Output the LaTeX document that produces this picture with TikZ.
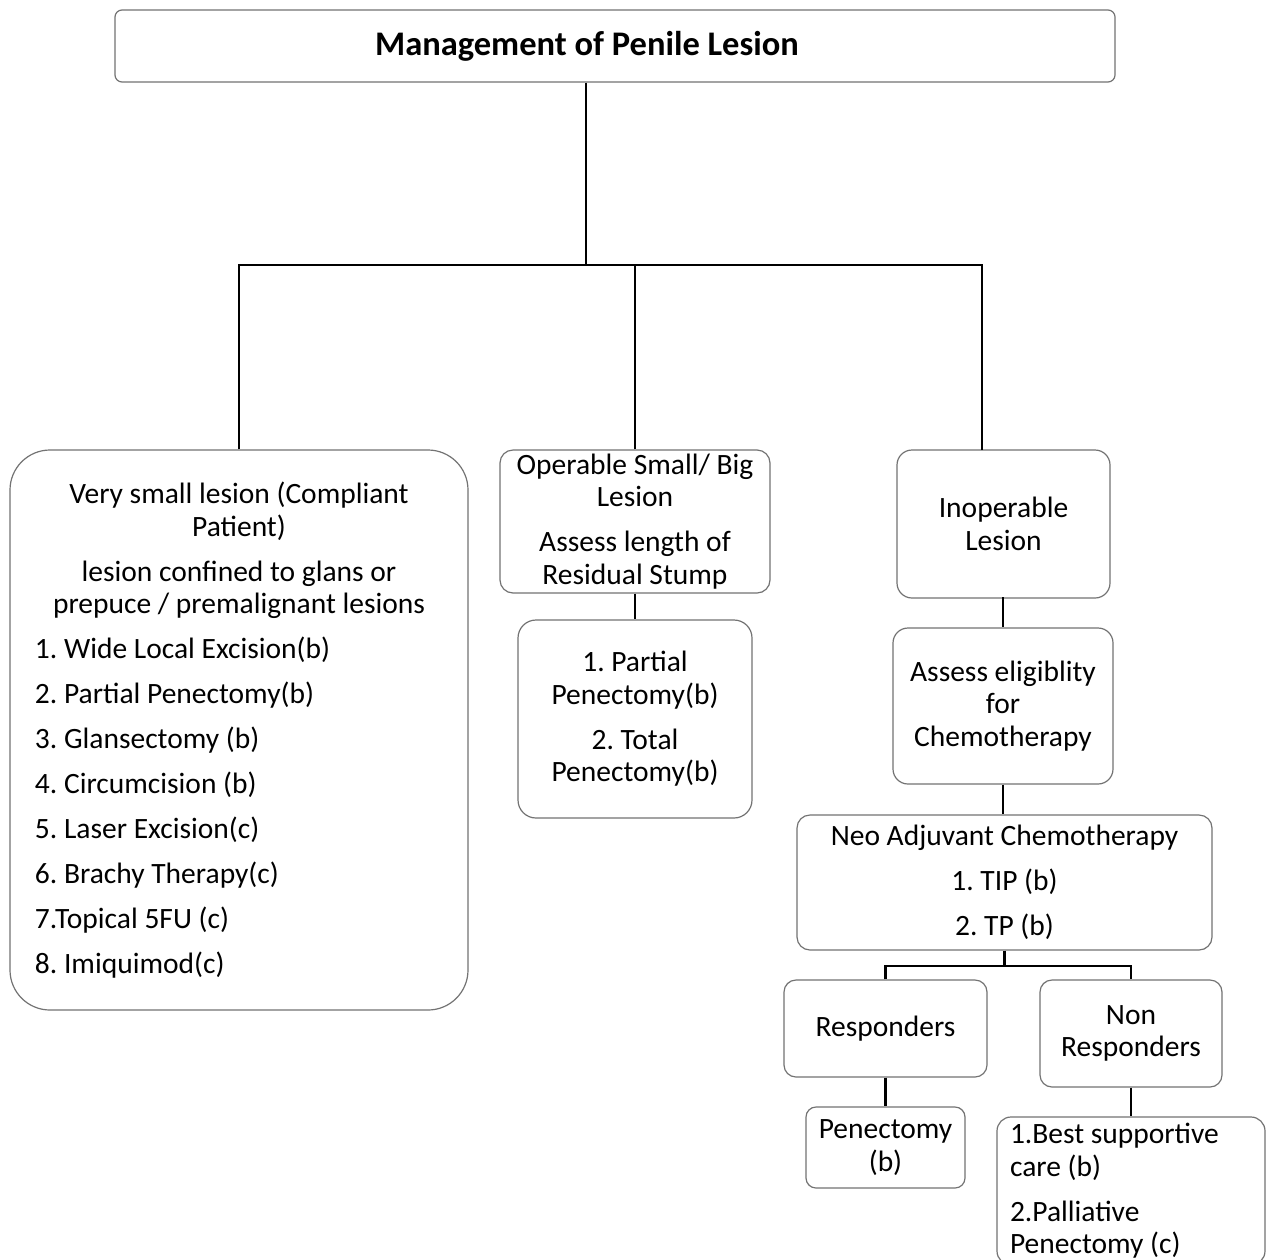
\documentclass[tikz,border=0pt]{standalone}
\usepackage{fontspec}
\setmainfont{Carlito}
\frenchspacing
% fixed natural word spacing of the current font inside aligned node text
\newcommand\natspace{\spaceskip=\fontdimen2\font\xspaceskip=\fontdimen2\font\relax}
\begin{document}
\begin{tikzpicture}[x=1pt,y=-1pt,
  box/.style={draw=black!55, line width=1.2pt, fill=white, inner sep=0pt,
    font=\fontsize{29.5}{32.6}\selectfont, execute at begin node=\natspace},
  conn/.style={draw=black, line width=2.6pt}]
\useasboundingbox (0,0) rectangle (1266,1259);
\fill[white] (0,0) rectangle (1266,1259);

% root
\node[box, rounded corners=7pt, minimum width=1000pt, minimum height=72pt,
  text width=990pt, align=center, font=\fontsize{34.5}{40}\selectfont\bfseries] (title) at (615,46)
  {\hspace*{-56pt}Management of Penile Lesion};

% first level
\node[box, rounded corners=40pt, minimum width=458pt, minimum height=560pt,
  text width=440pt, align=center] (small) at (239,730)
  {Very small lesion (Compliant\\ Patient)\\[12.3pt]
   lesion confined to glans or\\ prepuce / premalignant lesions\\[12.3pt]
   \makebox[408pt][l]{1. Wide Local Excision(b)}\\[12.3pt]
   \makebox[408pt][l]{2. Partial Penectomy(b)}\\[12.3pt]
   \makebox[408pt][l]{3. Glansectomy (b)}\\[12.3pt]
   \makebox[408pt][l]{4. Circumcision (b)}\\[12.3pt]
   \makebox[408pt][l]{5. Laser Excision(c)}\\[12.3pt]
   \makebox[408pt][l]{6. Brachy Therapy(c)}\\[12.3pt]
   \makebox[408pt][l]{7.Topical 5FU (c)}\\[12.3pt]
   \makebox[408pt][l]{8. Imiquimod(c)}};

\node[box, rounded corners=13pt, minimum width=270pt, minimum height=143pt,
  text width=265pt, align=center] (oper) at (635,521.5)
  {Operable Small/ Big\\ Lesion\\[12.3pt] Assess length of\\ Residual Stump};

\node[box, rounded corners=18pt, minimum width=234pt, minimum height=198pt,
  text width=230pt, align=center] (opertx) at (635,719)
  {1. Partial\\ Penectomy(b)\\[12.3pt] 2. Total\\ Penectomy(b)};

\node[box, rounded corners=15pt, minimum width=213pt, minimum height=148pt,
  text width=210pt, align=center] (inop) at (1003.5,524)
  {Inoperable\\ Lesion};

\node[box, rounded corners=15pt, minimum width=220pt, minimum height=156pt,
  text width=215pt, align=center] (elig) at (1003,706)
  {Assess eligiblity\\ for\\ Chemotherapy};

\node[box, rounded corners=13pt, minimum width=415pt, minimum height=135pt,
  text width=410pt, align=center] (neo) at (1004.5,882.5)
  {Neo Adjuvant Chemotherapy\\[12.3pt] 1. TIP (b)\\[12.3pt] 2. TP (b)};

\node[box, rounded corners=12pt, minimum width=203pt, minimum height=97pt,
  text width=200pt, align=center] (resp) at (885.5,1028.5)
  {Responders};

\node[box, rounded corners=12pt, minimum width=182pt, minimum height=107pt,
  text width=180pt, align=center] (nonresp) at (1131,1033.5)
  {Non\\ Responders};

\node[box, rounded corners=10pt, minimum width=159pt, minimum height=81pt,
  text width=155pt, align=center] (penec) at (885.5,1147.5)
  {Penectomy\\ (b)};

\node[box, rounded corners=14pt, minimum width=268pt, minimum height=148pt,
  text width=250pt, align=left] (bsc) at (1131,1191)
  {\hspace*{4pt}1.Best supportive\\ \hspace*{4pt}care (b)\\[12.3pt] \hspace*{4pt}2.Palliative\\ \hspace*{4pt}Penectomy (c)};

% connectors
\coordinate (busA) at (0,265);
\coordinate (rootOut) at ([xshift=-29pt]title.south);
\coordinate (inopIn) at (982,450);
\draw[conn] (rootOut) -- (rootOut |- busA);
\draw[conn] (small.north) -- (small.north |- busA) -- (inopIn |- busA) -- (inopIn);
\draw[conn] (oper.north) -- (oper.north |- busA);
\draw[conn] (oper.south) -- (opertx.north);
\draw[conn] (inop.south) -- (elig.south |- inop.south) -- (elig.north);
\draw[conn] (elig.south) -- (elig.south |- neo.north);

\coordinate (busB) at (0,966);
\draw[conn] (neo.south) -- (neo.south |- busB);
\draw[conn] (resp.north) -- (resp.north |- busB) -- (nonresp.north |- busB) -- (nonresp.north);
\draw[conn] (resp.south) -- (penec.north);
\draw[conn] (nonresp.south) -- (bsc.north);
\end{tikzpicture}
\end{document}
